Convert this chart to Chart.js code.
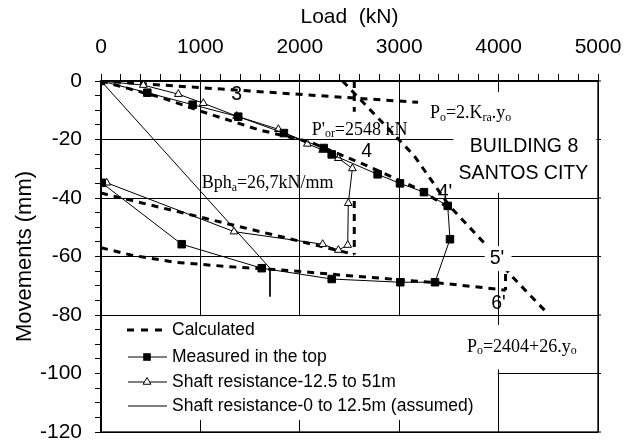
<!DOCTYPE html>
<html>
<head>
<meta charset="utf-8">
<script src="https://cdn.jsdelivr.net/npm/chart.js@4.4.1/dist/chart.umd.min.js"></script>
<style>
  html, body { margin: 0; padding: 0; background: #fff; }
  #chart { display: block; }
</style>
</head>
<body>
<canvas id="chart" width="634" height="442"></canvas>
<script>
// tick labels
const loadTicks = [0, 1000, 2000, 3000, 4000, 5000];
const moveTicks = [0, -20, -40, -60, -80, -100, -120];

// measured in the top (load kN / movement mm)
const measuredLoad = [0, 466, 922, 1381, 1840, 2240, 2321, 2783, 3008, 3249, 3488, 3511, 3360, 3011, 2321, 1617, 812, 7];
const measuredMove = [0, -4.0, -8.1, -12.2, -17.8, -22.9, -25.1, -31.9, -35.0, -38.0, -42.7, -54.1, -68.8, -68.8, -67.7, -64.0, -55.8, -34.8];

// shaft resistance 12.5 to 51 m
const shaftDeepLoad = [0, 426, 778, 1029, 1365, 1784, 2076, 2230, 2388, 2529, 2488, 2482, 2388, 2230, 1338, 57];
const shaftDeepMove = [0, -1.4, -4.5, -7.6, -12.0, -16.5, -21.5, -23.6, -26.4, -29.9, -41.8, -56.1, -57.8, -55.8, -51.5, -34.8];

// shaft resistance 0 to 12.5 m (assumed)
const shaftTopLoad = [0, 1700, 1700];
const shaftTopMove = [0, -64, -73.7];

// calculated curves
const calc3Load = [0, 3190];
const calc3Move = [0, -7.3];
const calcPorTopLoad = [2548, 2548];
const calcPorTopMove = [0, -10.5];
const calcPorLoad = [2548, 2548];
const calcPorMove = [-41, -59.3];
const calc4Load = [0, 600, 1000, 1600, 2100, 2700, 3200, 3480];
const calc4Move = [0, -5.6, -10.3, -16.8, -20.8, -29.3, -37.0, -43.0];
const calcPoLoad = [2430, 3150, 3500, 3850, 4120, 4480];
const calcPoMove = [0, -25.5, -42.5, -55.2, -66.3, -79.0];
const calcReLoad = [0, 2548];
const calcReMove = [-38.3, -59.3];
const calc6Load = [0, 300, 750, 1300, 1900, 2400, 2950, 3450, 4070];
const calc6Move = [-57, -59.5, -62, -63.5, -64.8, -66.3, -67.8, -69.2, -71.5];
const calc56Load = [4070, 4070];
const calc56Move = [-66, -71.5];

const pts = (xs, ys) => xs.map((v, i) => ({ x: v, y: ys[i] }));
const dashed = (xs, ys) => ({
  data: pts(xs, ys), showLine: true, borderColor: '#000', borderWidth: 3,
  borderDash: [7, 6], pointRadius: 0, fill: false, order: 5
});

const sans = '"Liberation Sans", Arial, sans-serif';
const serif = '"Liberation Serif", "Times New Roman", serif';

function rich(ctx, x, y, parts, size) {
  let cx = x;
  parts.forEach(([s, sub]) => {
    const fs = sub ? size * 0.66 : size;
    ctx.font = fs + 'px ' + serif;
    ctx.fillText(s, cx, y + (sub ? size * 0.24 : 0));
    cx += ctx.measureText(s).width;
  });
}

// white patches behind labels, in data units
const patches = [
  [3545, -3.8, 4985, -38.2],
  [3290, -7.9, 4150, -14.7],
  [3860, -56.4, 4130, -65],
  [3630, -83.4, 4820, -98.6],
  [10, -80.4, 3990, -115.9]
];

const bigLabels = [
  [1365, -4.8, '3'], [2673, -24.2, '4'], [3461, -38.1, "4'"],
  [3984, -60.6, "5'"], [3999, -76.0, "6'"],
  [4256, -22.4, 'BUILDING 8'], [4250, -31.5, 'SANTOS CITY']
];

const formulas = [
  [2120, -16.7, [['P'], ["'"], ['or', 1], ['=2548 kN']]],
  [3310, -11.1, [['P'], ['o', 1], ['=2.K'], ['ra', 1], ['.y'], ['o', 1]]],
  [1013, -34.9, [['Bph'], ['a', 1], ['=26,7kN/mm']]],
  [3682, -90.9, [['P'], ['o', 1], ['=2404+26.y'], ['o', 1]]]
];

const notes = {
  id: 'notes',
  afterDatasetsDraw(chart) {
    const { ctx, chartArea: a, scales: { x, y } } = chart;
    const X = v => x.getPixelForValue(v), Y = v => y.getPixelForValue(v);
    ctx.save();
    ctx.fillStyle = '#fff';
    patches.forEach(([x0, y0, x1, y1]) => ctx.fillRect(X(x0), Y(y0), X(x1) - X(x0), Y(y1) - Y(y0)));

    ctx.fillStyle = '#000';
    ctx.textBaseline = 'middle';
    ctx.textAlign = 'center';
    ctx.font = '19.5px ' + sans;
    bigLabels.forEach(([lx, ly, t]) => ctx.fillText(t, X(lx), Y(ly)));

    ctx.textAlign = 'left';
    formulas.forEach(([lx, ly, parts]) => rich(ctx, X(lx), Y(ly), parts, 18));

    // legend
    const lx0 = 128, lx1 = 167, mid = 147, tx = 172;
    ctx.strokeStyle = '#000';
    ctx.lineWidth = 3;
    ctx.setLineDash([7, 7]);
    ctx.beginPath(); ctx.moveTo(127, 330); ctx.lineTo(163, 330); ctx.stroke();
    ctx.setLineDash([]);
    ctx.lineWidth = 1;
    [357, 382, 406].forEach(ly => { ctx.beginPath(); ctx.moveTo(lx0, ly); ctx.lineTo(lx1, ly); ctx.stroke(); });
    ctx.fillRect(mid - 3.8, 357 - 3.8, 7.6, 7.6);
    const r = 4.5;
    ctx.beginPath();
    ctx.moveTo(mid, 382 - r);
    ctx.lineTo(mid + r * 0.866, 382 + r / 2);
    ctx.lineTo(mid - r * 0.866, 382 + r / 2);
    ctx.closePath();
    ctx.fillStyle = '#fff'; ctx.fill(); ctx.stroke();
    ctx.fillStyle = '#000';
    ctx.font = '17.5px ' + sans;
    ctx.fillText('Calculated', tx, 330);
    ctx.fillText('Measured in the top', tx, 357);
    ctx.fillText('Shaft resistance-12.5 to 51m', tx, 382);
    ctx.fillText('Shaft resistance-0 to 12.5m (assumed)', tx, 406);

    // frame and right-hand ticks
    ctx.lineWidth = 1.3;
    ctx.strokeRect(a.left, a.top, a.right - a.left, a.bottom - a.top);
    ctx.lineWidth = 1;
    moveTicks.forEach(v => {
      ctx.beginPath(); ctx.moveTo(a.right, Y(v)); ctx.lineTo(a.right + 3, Y(v)); ctx.stroke();
    });
    ctx.restore();
  }
};

const majorGrid = step => c => (c.tick && c.tick.value % step === 0) ? '#000' : 'rgba(0,0,0,0)';

new Chart(document.getElementById('chart'), {
  type: 'scatter',
  data: {
    datasets: [
      {
        data: pts(measuredLoad, measuredMove), showLine: true, borderColor: '#000', borderWidth: 1,
        pointStyle: 'rect', pointRadius: 5.3, pointBackgroundColor: '#000', pointBorderColor: '#000', order: 1
      },
      {
        data: pts(shaftDeepLoad, shaftDeepMove), showLine: true, borderColor: '#000', borderWidth: 1,
        pointStyle: 'triangle', pointRadius: c => c.dataIndex === 0 ? 0 : 4.5,
        pointBackgroundColor: '#fff', pointBorderColor: '#000', pointBorderWidth: 1, order: 2
      },
      {
        data: pts(shaftTopLoad, shaftTopMove), showLine: true, borderColor: '#000', borderWidth: 1,
        pointRadius: 0, order: 3
      },
      dashed(calc3Load, calc3Move),
      dashed(calcPorTopLoad, calcPorTopMove),
      dashed(calcPorLoad, calcPorMove),
      dashed(calc4Load, calc4Move),
      dashed(calcPoLoad, calcPoMove),
      dashed(calcReLoad, calcReMove),
      dashed(calc6Load, calc6Move),
      dashed(calc56Load, calc56Move)
    ]
  },
  options: {
    responsive: false,
    animation: false,
    layout: { padding: { left: 0, top: 0, right: 36, bottom: 10 } },
    plugins: { legend: { display: false }, tooltip: { enabled: false } },
    scales: {
      x: {
        type: 'linear', position: 'top', min: 0, max: 5000,
        title: { display: true, text: 'Load  (kN)', color: '#000', font: { family: sans, size: 21 }, padding: { top: 5, bottom: 0 } },
        ticks: {
          stepSize: 200, autoSkip: false, maxRotation: 0, padding: 14, color: '#000',
          font: { family: sans, size: 21 },
          callback: v => loadTicks.includes(v) ? String(v) : ''
        },
        grid: { color: majorGrid(1000), tickColor: '#000', tickLength: 7, lineWidth: 1 },
        border: { color: '#000', width: 1.3 },
        afterFit: s => { s.height = 81; s.paddingLeft = 0; s.paddingRight = 0; }
      },
      y: {
        type: 'linear', min: -120, max: 0,
        title: { display: true, text: 'Movements (mm)', color: '#000', font: { family: sans, size: 22 }, padding: { top: 12, bottom: 0 } },
        ticks: {
          stepSize: 5, autoSkip: false, padding: 13, color: '#000',
          font: { family: sans, size: 21 },
          callback: v => moveTicks.includes(v) ? String(v) : ''
        },
        grid: { color: majorGrid(20), tickColor: '#000', tickLength: 6, lineWidth: 1 },
        border: { color: '#000', width: 1.3 },
        afterFit: s => { s.width = 101; s.paddingTop = 0; s.paddingBottom = 0; }
      }
    }
  },
  plugins: [notes]
});
</script>
</body>
</html>
